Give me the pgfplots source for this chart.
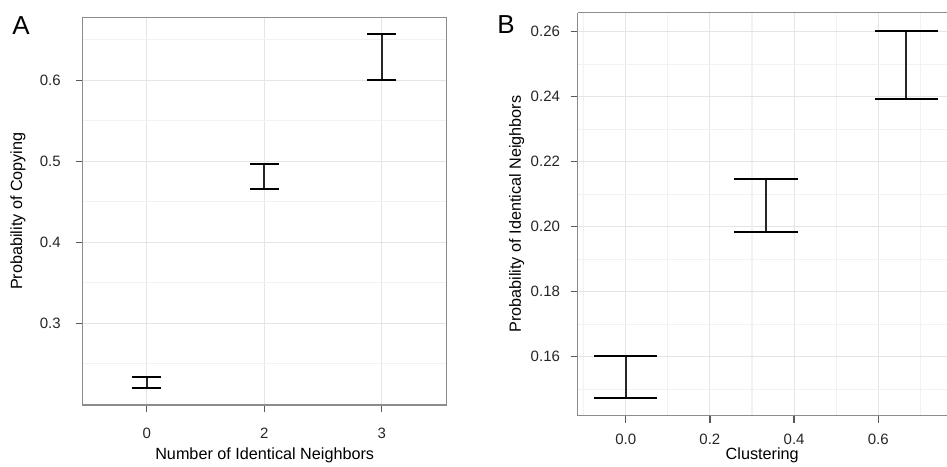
\documentclass[border=0pt]{standalone}
\usepackage{fontspec}
\setmainfont{Liberation Sans}
\usepackage{pgfplots}
\pgfplotsset{compat=1.18}

\definecolor{gridmaj}{gray}{0.90}
\definecolor{gridmin}{gray}{0.95}
\definecolor{frame}{gray}{0.55}

\newcommand{\labfont}{\fontsize{8.1pt}{10pt}\selectfont}

\pgfplotsset{
  panel/.style={
    scale only axis,
    anchor=south west,
    font=\fontsize{7.5pt}{9pt}\selectfont,
    /pgf/number format/assume math mode=true,
    axis line style={frame, line width=0.6pt},
    tick align=outside,
    xtick pos=bottom, ytick pos=left,
    major tick length=3.5pt,
    minor tick length=0pt,
    tick style={black!65, line width=0.6pt},
    major grid style={gridmaj, line width=0.5pt},
    minor grid style={gridmin, line width=0.5pt},
    ticklabel style={black!85},
    error bars/error bar style={draw=black!85, line width=1pt},
  },
}

\begin{document}
\begin{tikzpicture}
\useasboundingbox (0,0) rectangle (473.5pt,233pt);

% Panel A
\begin{axis}[panel,
  at={(41.35pt,30.5pt)}, width=182pt, height=193.85pt,
  xmin=0.455, xmax=3.553, ymin=0.199, ymax=0.678,
  xtick={1,2,3}, xticklabels={0,2,3},
  ytick={0.3,0.4,0.5,0.6},
  minor ytick={0.25,0.35,0.45,0.55,0.65},
  yticklabel style={/pgf/number format/.cd, fixed, precision=1},
  xmajorgrids, ymajorgrids, yminorgrids,
  xticklabel shift=4.3pt, yticklabel shift=4pt,
  every axis x label/.style={at={(axis description cs:0.5,-0.129)}, anchor=center, font=\labfont},
  every axis y label/.style={at={(axis description cs:-0.178,0.5)}, rotate=90, anchor=center, font=\labfont},
  xlabel={Number of Identical Neighbors},
  ylabel={Probability of Copying},
  error bars/error mark options={rotate=90, mark size=7.3pt, line width=1pt},
]
\addplot[draw=none, mark=none, error bars/.cd, y dir=both, y explicit]
  coordinates {
    (1, 0.22675) +- (0, 0.00625)
    (2, 0.48155) +- (0, 0.01525)
    (3, 0.6285)  +- (0, 0.0285)
  };
\end{axis}

% Panel B
\begin{axis}[panel,
  at={(288.85pt,25.15pt)}, width=184.5pt, height=201.5pt,
  axis x line=box, axis y line*=left,
  xmin=-0.114, xmax=0.7625, ymin=0.1418, ymax=0.2658,
  xtick={0,0.2,0.4,0.6},
  minor xtick={-0.1,0.1,0.3,0.5,0.7},
  ytick={0.16,0.18,0.20,0.22,0.24,0.26},
  minor ytick={0.15,0.17,0.19,0.21,0.23,0.25},
  xticklabel style={/pgf/number format/.cd, fixed, fixed zerofill, precision=1},
  yticklabel style={/pgf/number format/.cd, fixed, fixed zerofill, precision=2},
  xmajorgrids, ymajorgrids, xminorgrids, yminorgrids,
  xticklabel shift=2.3pt, yticklabel shift=1.85pt,
  every axis x label/.style={at={(axis description cs:0.5,-0.0975)}, anchor=center, font=\labfont},
  every axis y label/.style={at={(axis description cs:-0.1653,0.5)}, rotate=90, anchor=center, font=\labfont},
  xlabel={Clustering},
  ylabel={Probability of Identical Neighbors},
  error bars/error mark options={rotate=90, mark size=15.8pt, line width=1pt},
]
\addplot[draw=none, mark=none, error bars/.cd, y dir=both, y explicit]
  coordinates {
    (0,      0.1537)  +- (0, 0.0065)
    (0.3333, 0.20645) +- (0, 0.00825)
    (0.6667, 0.24975) +- (0, 0.01055)
  };
\end{axis}

\node[font=\fontsize{13pt}{15pt}\selectfont] at (10.5pt,220pt) {A};
\node[font=\fontsize{13pt}{15pt}\selectfont] at (253pt,220.5pt) {B};
\end{tikzpicture}
\end{document}
